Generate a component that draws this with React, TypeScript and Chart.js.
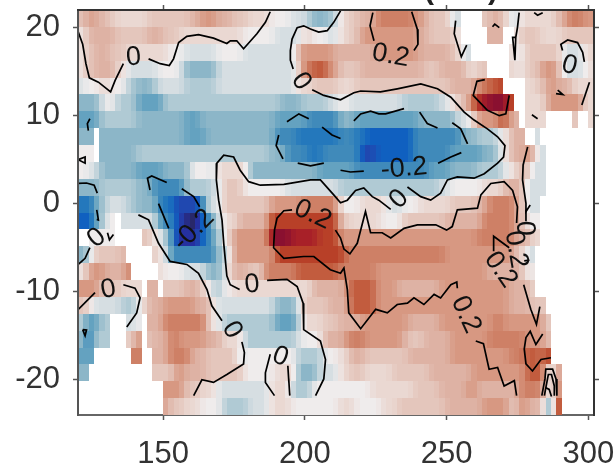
import React, { useEffect, useRef } from "react";
import { Chart, registerables } from "chart.js";

Chart.register(...registerables);

const N = null;
const lonStart = 120;
const lonStep = 1.875;
const latTop = 22;
const latStep = 46 / 24;
const columnCount = 97;
const xTicks = [150, 200, 250, 300];
const yTicks = [-20, -10, 0, 10, 20];

// Each row, north to south: start column, anomaly level, start column, anomaly level, ...
const row00 = [0,2,1,3,2,4,3,3,5,2,7,1,13,2,21,3,23,4,26,3,29,2,32,1,36,0,40,-1,43,-2,44,-3,47,-2,49,1,51,2,53,3,56,5,63,4,65,3,66,2,70,-1,72,N,76,2,78,4,79,2,81,-1,83,1,90,3,92,5,95,4];
const row01 = [0,0,1,2,2,3,7,2,13,3,16,2,19,1,31,0,37,-1,42,1,44,0,47,-1,49,1,51,2,53,4,64,3,66,2,71,0,72,N,77,3,80,N,82,0,83,2,87,1,91,2];
const row02 = [0,0,1,2,3,3,6,2,9,1,17,0,20,-1,26,0,31,-1,41,3,42,4,48,3,56,4,64,3,70,2,72,-1,74,N,81,1,82,0,84,2,91,-1,95,1];
const row03 = [0,0,1,2,3,3,7,1,9,-1,15,0,19,-1,20,-3,26,-1,41,1,42,5,44,6,47,4,49,2,53,3,65,2,68,3,73,1,75,2,77,N,81,1,83,0,84,2,87,4,90,3,91,-1,95,0,96,1];
const row04 = [0,-1,1,0,4,1,6,0,9,-2,11,-3,14,-2,15,-1,20,-2,26,-1,41,1,44,2,49,1,52,2,70,3,75,5,77,6,79,7,80,N,84,1,86,2,88,4,90,3,93,1];
const row05 = [0,-3,4,-1,5,0,7,-2,11,-4,16,-2,38,-3,42,-2,47,-1,49,0,51,-1,61,-2,68,-1,70,1,72,3,74,6,75,8,77,9,81,6,82,N,84,1,88,4,95,1];
const row06 = [0,-4,4,-2,11,-3,20,-4,23,-3,37,-4,43,-5,49,-3,52,-4,64,-3,71,-1,74,2,75,4,79,6,81,3,83,N,84,1,88,N,93,2,94,N,96,1];
const row07 = [0,-3,3,N,4,-3,20,-4,24,-3,37,-5,41,-6,49,-5,52,-6,54,-7,63,-5,72,-3,75,-2,79,0,81,3,84,N,86,-1,87,N];
const row08 = [0,0,3,N,4,-3,11,-2,36,-3,39,-5,43,-6,46,-5,53,-8,56,-7,63,-5,70,-4,76,-3,79,0,81,3,84,4,86,-1,88,N];
const row09 = [0,0,2,-1,4,-3,11,-4,16,-3,21,0,25,-1,26,1,32,-3,45,-4,52,-5,66,-4,70,-3,75,-2,80,0,82,2,84,3,85,-1,88,N];
const row10 = [0,-3,4,-2,11,-3,14,-5,20,-2,25,-1,27,2,31,0,39,-1,49,-2,68,-1,70,0,76,1,80,3,84,-1,88,N];
const row11 = [0,-6,3,-3,5,-1,9,-2,11,-3,15,-6,18,-8,23,-5,24,-1,27,2,36,4,42,5,49,0,53,1,58,-1,61,0,64,1,70,2,75,3,77,5,82,3,84,-1,87,N];
const row12 = [0,-7,3,-3,5,0,7,N,8,-1,15,-5,18,-8,20,-10,23,-6,25,-2,27,1,30,3,36,7,49,2,51,1,57,0,61,2,69,3,76,5,82,3,84,0,87,N];
const row13 = [0,N,2,0,7,N,12,2,14,0,16,-3,18,-9,23,-6,25,-3,27,1,29,4,36,9,40,8,45,7,49,4,75,5,82,3,85,1,87,N];
const row14 = [0,-3,2,0,3,2,8,3,9,N,14,2,15,0,17,-5,26,-2,28,0,29,4,37,7,50,5,69,4,82,2,84,-1,86,N];
const row15 = [0,0,1,2,2,4,5,3,9,5,10,N,15,1,16,0,20,-1,24,-3,27,-1,28,1,29,3,32,2,35,5,41,6,49,5,56,4,77,3,84,-1,85,1,86,N];
const row16 = [0,4,4,2,8,1,12,N,13,3,15,N,16,2,20,3,23,1,25,-2,27,0,29,1,44,3,50,4,51,6,56,4,60,3,68,4,81,3,85,1,86,N];
const row17 = [0,2,2,0,3,-1,8,-2,11,0,12,1,13,3,16,4,22,3,25,0,26,-1,37,-3,41,-1,42,2,47,3,51,6,56,4,81,3,85,2,88,N];
const row18 = [0,-1,1,-4,4,-2,6,N,9,-1,11,0,12,N,13,3,16,5,24,2,25,0,27,-2,37,-4,41,-2,42,1,46,2,49,3,53,4,62,3,68,4,78,5,80,4,88,1,89,N];
const row19 = [0,-2,1,-5,3,-2,6,N,9,1,10,3,11,4,12,N,13,2,14,3,17,5,19,4,24,3,27,1,31,-2,41,-1,42,0,46,3,50,4,51,5,54,4,61,3,62,2,65,3,70,4,77,5,84,4,88,2,89,N];
const row20 = [0,-4,3,N,10,5,12,N,14,3,17,5,21,3,24,2,30,-1,31,0,41,-2,46,0,49,1,51,3,54,2,62,3,70,4,81,5,84,6,87,5,88,7,89,N];
const row21 = [0,-3,2,N,14,2,18,4,20,3,24,2,31,0,37,1,41,-3,45,-1,49,1,51,2,54,1,59,2,66,3,74,4,84,6,88,0,90,5,91,N];
const row22 = [0,N,16,4,20,2,23,1,26,-1,36,1,40,-2,44,0,55,1,63,2,68,3,73,4,75,3,83,5,87,4,88,0,90,6,91,N];
const row23 = [0,N,16,4,17,2,20,1,23,0,27,-2,32,-1,36,1,40,0,49,1,52,0,57,1,60,2,69,3,76,4,81,2,83,5,84,3,87,2,88,-4,89,-2,90,10,91,N];
const rows = [row00,row01,row02,row03,row04,row05,row06,row07,row08,row09,row10,row11,row12,row13,row14,row15,row16,row17,row18,row19,row20,row21,row22,row23];

// Contours as lon, lat, lon, lat, ...
const zeroA = [120.1,19.5,121.65,18.1,122.8,15.9,124,14.3,127.2,13.8,131.5,12.7,133.1,14,136,15.9];
const zeroB = [144.9,16.45,149,15.9,152.2,15.7,153.7,16.45,155.5,18.3,158.4,19,162.5,19.2,167.8,18.8,172.5,18.2,173.7,18.5,176,18.5,178.4,17.6,183.1,19.3,186.1,20.6,187.8,21.8];
const zeroC = [212.6,21.9,210.2,20.6,207.9,19.65,204.9,19.5,202,19.85,199.6,20.2,197.3,20,195.5,18.7,194.9,17.4,194.9,16.3,195.9,15.3];
const zeroD = [202.6,12.95,206.7,12.3,212.6,11.8,217.3,12.6,219.7,12.8,226.7,12.7,232.6,13.05,240.9,13.6,246.8,13.05,251.5,12.1,256.2,10.4,259.7,9.5,264.4,8.5,268,7.6,270.6,6.6,270.1,5.3,268,4.6,263.3,3.4,259.7,2.9,253.8,3.05,250.3,2.7,247.9,1.2,244.4,0.4,240.9,0.8,236.2,1.9];
const zeroE = [230.3,-0.65,226.1,0.4,223.8,0.8,220.8,1.8,217.9,1.5,215,0.4,212.6,0.1,210.2,1,205.5,2.7,202,2.7,192.6,2.2,184.3,2.1,180.2,2.5,177.2,3.8,174.9,5.3,171.4,5.5,169,4.6,168.8,2.7,169.6,0.4,170.8,-1.85,171.4,-4.5,172.5,-8.2,173.7,-9.2,177,-9.75];
const zeroF = [186.7,-8.7,193.7,-8.6,197.3,-9.4,199.4,-11.3,199.6,-14.3,205.5,-15.6,207.3,-17.7,206.7,-19.9,203.8,-21.8];
const zeroG = [141.3,-1.27,144.9,-1.83,148.4,-4.5,152.5,-6.55,158.4,-6.9,162.5,-7.9,165.5,-9.75,167.2,-11.6,170.8,-13.3];
const zeroH = [177.8,-15.7,178.7,-16.9,178.4,-18.2,172.5,-19.4,167.8,-20.3,163.7,-20,160.8,-21.8];
const zeroI = [187.8,-17.1,186.1,-19.2,186.1,-20.3,189.3,-21.8];
const zeroJ = [194,-18.4,194.7,-21.8];
const zeroK = [136,-9.2,140.1,-9.6,141.9,-10.7,140.7,-12.4,137.2,-14];
const zeroL = [126,-10.1,120.1,-12];
const zeroM = [124.2,-5,122.5,-6.2,120.1,-6.9];
const zeroN = [121.65,-14.3,123,-14.35,122.5,-15,121.65,-14.3];
const zeroO = [124.2,9.65,123.3,9.1,123.65,8.3];
const zeroP = [120.1,5,122.5,5.3,122.5,4.6,120.1,5];
const negA = [145.4,1.55,144.5,2.9,146,3.15,151.3,2.4];
const negB = [156.6,1.7,160.8,0.8,162.9,-0.35];
const negC = [148.4,0,152,-2.8];
const negD = [120.1,2.3,123,2.35,125.7,2.1,126.8,1.2];
const negE = [126.6,-0.7,127.2,-1.85,126.6,-1.8];
const negF = [130.4,-3.3,131.1,-4.1,132.5,-3.5];
const negG = [193.7,9.3,197.9,10.2,201.4,9.65];
const negH = [190.8,7.8,189.9,6.6,192.3,5.1];
const negI = [197.5,4.6,202,4.3,206.7,4.6];
const negJ = [206.1,8.7,209.6,7.8,212.6,7.4];
const negK = [212.6,3.8,216.1,3.6,220.8,3.7];
const negL = [217.3,9.4,219.7,10.2,223.2,10.5,226.1,10.2,228.5,10.2,235,10.8];
const negM = [240.5,10.4,243.2,9.1,246.8,8.6];
const negN = [252,9.2,255,8.5,257.4,6.8];
const negO = [255.2,5.8,251.5,5.3,247,4.6];
const posA = [224,21.7,223,20.2,224.4,18.5];
const posB = [237.7,21.8,239.7,19.8,239.9,18.1,238.5,17.4];
const posC = [253.2,20.8,252.7,19.3,255.2,16.7,257.1,18];
const posD = [266.2,20.1,267,20.4,268.6,20];
const posE = [275.6,21.7,275,20,274.4,18.9,273.3,18.9,274.1,16.3,274.4,18.9];
const posF = [263.5,14.1,260.7,13.9,259.4,12.3,264.4,10.6,268.6,10,270.9,10.2,272.1,12.3];
const posG = [280.1,10.1,282.1,9.65];
const posH = [290.9,17.4,290.3,18.1,292.7,18.6,296.2,18.3,298,17.2,298.6,16.1];
const posI = [280.9,21.7,282.1,21.4,283.9,21.7];
const posJ = [289.2,12.9,291,12.4,288.6,12.5];
const posK = [300.4,13.8,297.7,11.2];
const posL = [278.6,6.45,277,4.4,276.8,2.7,278,0.05,278,-0.9,279.5,-0.15];
const posM = [195.5,-0.7,192.6,-0.8,190.2,-1.65,189.3,-3,189,-5,192.6,-6.2,199.6,-6,203.2,-6,209,-7.5,212.6,-7.9,213.8,-7.3,215,-9.75,215.5,-12.4,219.7,-14.2,225,-12,229.1,-12.4,232.6,-11.45,236.2,-11.3,238.5,-10.7,242,-11.45,245.6,-10.3,247.9,-10.7,251.5,-9.2,253.6,-8.9,253.8,-9.6];
const posN = [260.3,-15.6,263,-15.9,265,-18.8,268,-18.6,270.3,-20.7,273.9,-20.1,274.7,-21.8];
const posO = [210.8,-3,212.6,-3.9,213.8,-5.15,215.9,-5.7,218.5,-4.5,221.4,-0.9,223.2,-3.3,227.3,-3.3,230.3,-3.9,235,-2.8,239.7,-2.4,246.2,-2.4,250,-3,252,-2.6,253.8,-0.7,260.9,-0.5,262.1,1,265.6,2.3,270.3,2.5,273.3,1.5,275,-0.35,274.7,-2.2];
const posP = [266.6,-5.4,266.6,-3.7,269.1,-4.3,272.1,-5];
const posQ = [277.4,-6.5,279.2,-6.4];
const posR = [277.2,-9.2,279.7,-12,281.7,-13.7,282.9,-11.7];
const posS = [283.9,-14.8,281.5,-16,279.5,-14.5,278,-15.2,277.4,-16.5,278,-18.2,280.3,-19,283.3,-17.7,286.8,-17.5];
const posT = [283.6,-21.8,284.7,-19.9,285,-18.8,287.4,-18.8,288.6,-19.9,288.9,-21.8];
const posU = [284.5,-21.8,285.6,-19.9,285.9,-19.4,287,-19.4,288,-20.7,288,-21.8];
const posV = [285,-20.9,286.2,-21.1,287,-21.9];
const posW = [278,-0.7,278,-2];
const contours = [zeroA,zeroB,zeroC,zeroD,zeroE,zeroF,zeroG,zeroH,zeroI,zeroJ,zeroK,zeroL,zeroM,zeroN,zeroO,zeroP,negA,negB,negC,negD,negE,negF,negG,negH,negI,negJ,negK,negL,negM,negN,negO,posA,posB,posC,posD,posE,posF,posG,posH,posI,posJ,posK,posL,posM,posN,posO,posP,posQ,posR,posS,posT,posU,posV,posW];

const labelTexts = ["0","0","0.2","-0.2","0","0","0","-0.2","0.2","0","0","0","0","0.2","0.2","0.2","0"];
const labelLons = [139.6,198.7,230.3,235,233.2,293.3,126.6,160.8,202.8,130.7,181.4,174.3,191.4,256.8,269.1,274.5,277.4];
const labelLats = [16.6,13.9,16.8,4,0.5,15.7,-3.9,-3,-1.24,-9.75,-9.2,-14.35,-17.4,-12.6,-7.5,-5.2,-2.8];
const labelAngles = [-5,55,10,-5,-45,15,-40,-45,25,-10,-5,60,20,65,55,80,90];

// Colours for levels -10 .. 10
const palette = [[40,40,106],[37,48,160],[32,72,176],[16,96,192],[36,120,188],[64,138,186],[100,162,192],[140,182,200],[176,202,212],[214,222,226],[239,236,236],[234,216,210],[228,198,188],[222,178,164],[215,152,130],[206,128,102],[194,92,62],[184,64,40],[168,32,40],[138,16,48],[58,10,16]];

function expandRow(row: (number | null)[]) {
  const out: (number | null)[] = new Array(columnCount).fill(null);
  for (let i = 0; i < row.length; i += 2) {
    const end = i + 2 < row.length ? (row[i + 2] as number) : columnCount;
    for (let c = row[i] as number; c < end; c++) out[c] = row[i + 1];
  }
  return out;
}

function colourAt(level: number) {
  const t = Math.max(0, Math.min(20, level + 10));
  const i = Math.min(19, Math.floor(t));
  const f = t - i;
  const [a, b] = [palette[i], palette[i + 1]];
  return `rgb(${a.map((v, k) => Math.round(v + (b[k] - v) * f)).join(",")})`;
}

// The reference's shading blends neighbouring cells slightly; do the same when painting.
function blended(values: (number | null)[], c: number) {
  const v = values[c] as number;
  let sum = v * 2;
  let w = 2;
  for (const n of [c - 1, c + 1]) {
    const o = values[n];
    if (o !== null && o !== undefined) { sum += o; w += 1; }
  }
  return sum / w;
}

const heatPlugin = {
  id: "heat",
  beforeDatasetsDraw(chart: any) {
    const { ctx, scales } = chart;
    rows.forEach((row, r) => {
      const values = expandRow(row);
      const y0 = Math.round(scales.y.getPixelForValue(latTop - r * latStep));
      const y1 = Math.round(scales.y.getPixelForValue(latTop - (r + 1) * latStep));
      values.forEach((v, c) => {
        if (v === null) return;
        const x0 = Math.round(scales.x.getPixelForValue(lonStart + c * lonStep));
        const x1 = Math.round(scales.x.getPixelForValue(lonStart + (c + 1) * lonStep));
        ctx.fillStyle = colourAt(blended(values, c));
        ctx.fillRect(x0, y0, Math.min(x1, chart.chartArea.right) - x0, y1 - y0);
      });
    });
  },
};

const labelPlugin = {
  id: "contourLabels",
  afterDatasetsDraw(chart: any) {
    const { ctx, scales } = chart;
    ctx.save();
    ctx.fillStyle = "#111";
    ctx.font = '27px "Liberation Sans"';
    ctx.textAlign = "center";
    ctx.textBaseline = "middle";
    labelTexts.forEach((t, i) => {
      ctx.save();
      ctx.translate(scales.x.getPixelForValue(labelLons[i]), scales.y.getPixelForValue(labelLats[i]));
      ctx.rotate((labelAngles[i] * Math.PI) / 180);
      ctx.fillText(t, 0, 0);
      ctx.restore();
    });
    ctx.fillStyle = "#222";
    ctx.font = 'bold 30px "Liberation Sans"';
    ctx.textAlign = "left";
    ctx.textBaseline = "alphabetic";
    ctx.fillText("(", 424, -1);
    ctx.fillText(")", 488, -1);
    ctx.restore();
  },
};

function fixSize(s: any, width: number | null, height: number | null) {
  if (width !== null) s.width = width;
  if (height !== null) s.height = height;
  s.paddingLeft = 0;
  s.paddingRight = 0;
  s.paddingTop = 0;
  s.paddingBottom = 0;
}

export default function App() {
  const ref = useRef<HTMLCanvasElement>(null);
  useEffect(() => {
    const datasets = contours.map((c) => {
      const data: { x: number; y: number }[] = [];
      for (let i = 0; i < c.length; i += 2) data.push({ x: c[i], y: c[i + 1] });
      return { type: "scatter", data, showLine: true, borderColor: "#000", borderWidth: 1.7, pointRadius: 0, fill: false };
    });
    const tickFont = { family: '"Liberation Sans"', size: 31 };
    const axisBase = (color: string, z: number) => ({
      grid: { drawOnChartArea: false, tickLength: 5, tickColor: "#555", tickWidth: 1.5, z },
      border: { color, width: 2, z },
    });
    const chart = new Chart(ref.current as HTMLCanvasElement, {
      data: { datasets } as any,
      plugins: [heatPlugin, labelPlugin],
      options: {
        animation: false,
        responsive: false,
        devicePixelRatio: 1,
        layout: { padding: 0 },
        plugins: { legend: { display: false }, tooltip: { enabled: false }, title: { display: false } },
        scales: {
          x: {
            type: "linear", position: "bottom", min: 120, max: 302,
            ...axisBase("#666", 0),
            afterBuildTicks: (s: any) => { s.ticks = xTicks.map((value) => ({ value })); },
            afterFit: (s: any) => fixSize(s, null, 54),
            ticks: { color: "#333", font: tickFont, padding: 16, maxRotation: 0, autoSkip: false },
          },
          y: {
            type: "linear", position: "left", min: -24, max: 22,
            ...axisBase("#555", 1),
            afterBuildTicks: (s: any) => { s.ticks = yTicks.map((value) => ({ value })); },
            afterFit: (s: any) => fixSize(s, 78, null),
            ticks: { color: "#333", font: tickFont, padding: 13, autoSkip: false },
          },
          xTop: {
            type: "linear", position: "top", min: 120, max: 302,
            ...axisBase("#333", 1),
            afterBuildTicks: (s: any) => { s.ticks = xTicks.map((value) => ({ value })); },
            afterFit: (s: any) => fixSize(s, null, 10),
            ticks: { display: false },
          },
          yRight: {
            type: "linear", position: "right", min: -24, max: 22,
            ...axisBase("#333", 1),
            afterBuildTicks: (s: any) => { s.ticks = yTicks.map((value) => ({ value })); },
            afterFit: (s: any) => fixSize(s, 22, null),
            ticks: { display: false },
          },
        },
      } as any,
    });
    return () => chart.destroy();
  }, []);
  return (
    <div style={{ position: "absolute", left: 0, top: 0, width: 616, height: 469, background: "#fff" }}>
      <canvas ref={ref} width={616} height={469} style={{ display: "block" }} />
    </div>
  );
}
